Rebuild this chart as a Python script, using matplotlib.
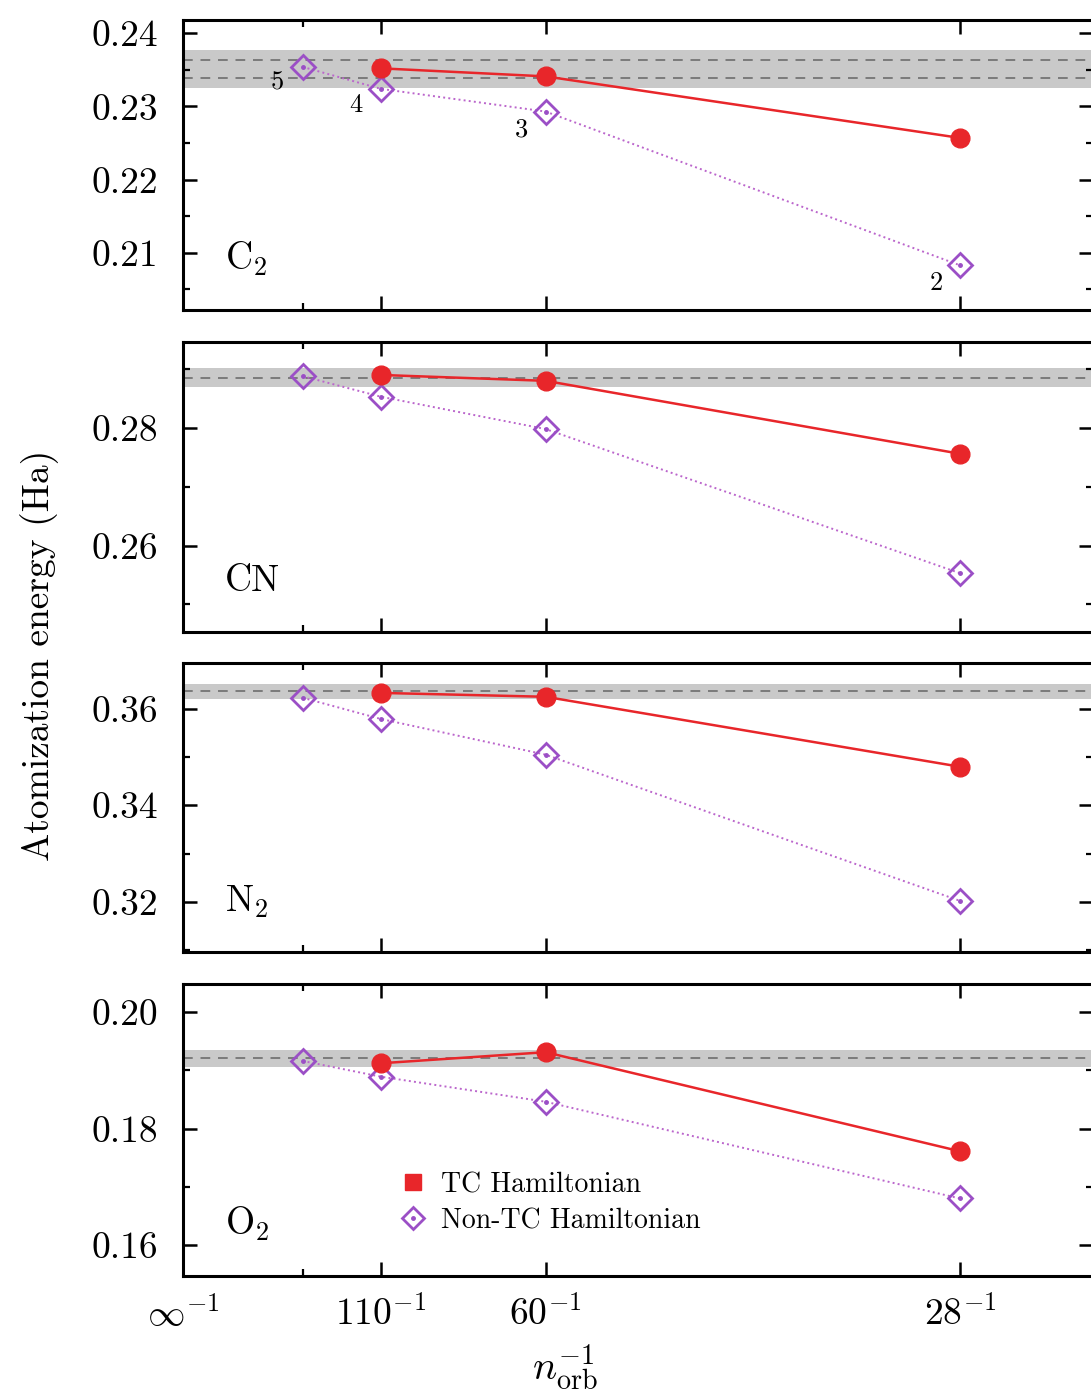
import numpy as np
import matplotlib
matplotlib.use("Agg")
import matplotlib.pyplot as plt
from matplotlib.ticker import FixedLocator, FixedFormatter, MultipleLocator, FormatStrFormatter
from matplotlib.lines import Line2D

plt.rcParams["font.family"] = ["cmr10", "DejaVu Serif"]
plt.rcParams["mathtext.fontset"] = "cm"
plt.rcParams["axes.formatter.use_mathtext"] = True

# Basis-set sizes (number of orbitals) and cardinal numbers
n_orb_nontc = [182, 110, 60, 28]
n_orb_tc = [110, 60, 28]
cardinal = ["5", "4", "3", "2"]

molecules = ["C$_2$", "CN", "N$_2$", "O$_2$"]

# Atomization energies (Ha)
tc_energy = {
    "C2": [0.2352, 0.2341, 0.2257],
    "CN": [0.2890, 0.2880, 0.2756],
    "N2": [0.3633, 0.3625, 0.3480],
    "O2": [0.1912, 0.1931, 0.1761],
}
nontc_energy = {
    "C2": [0.2354, 0.2324, 0.2293, 0.2083],
    "CN": [0.2888, 0.2853, 0.2798, 0.2553],
    "N2": [0.3623, 0.3579, 0.3505, 0.3202],
    "O2": [0.1916, 0.1889, 0.1846, 0.1680],
}
# Reference values (dashed) and uncertainty band limits
reference_lines = {
    "C2": [0.2363, 0.2339],
    "CN": [0.2885],
    "N2": [0.3636],
    "O2": [0.1921],
}
reference_band = {
    "C2": (0.2325, 0.2377),
    "CN": (0.2869, 0.2902),
    "N2": (0.3621, 0.3652),
    "O2": (0.1906, 0.1935),
}
ylims = {
    "C2": (0.2022, 0.2418),
    "CN": (0.2453, 0.2946),
    "N2": (0.3096, 0.3695),
    "O2": (0.1547, 0.2048),
}
y_major = {"C2": 0.01, "CN": 0.02, "N2": 0.02, "O2": 0.02}

x_tick_n = [np.inf, 110, 60, 28]
x_tick_labels = [r"$\infty^{-1}$", r"$110^{-1}$", r"$60^{-1}$", r"$28^{-1}$"]

RED = "#e8262a"
PURPLE = "#9b4fc6"
PURPLE_LINE = "#bb66cc"
BAND = "#c9c9c9"
DASH = "#7a7a7a"

W, H = 1091, 1400
fig = plt.figure(figsize=(W / 100, H / 100), dpi=100)

panels_px = [(20, 310), (342, 632), (663, 952), (984, 1276)]
left_px, right_px = 183, 1093
keys = ["C2", "CN", "N2", "O2"]
FS = 27

axes = []
for key, name, (top, bot) in zip(keys, molecules, panels_px):
    ax = fig.add_axes([left_px / W, 1 - bot / H, (right_px - left_px) / W, (bot - top) / H])
    axes.append(ax)

    xt = 1.0 / np.array(n_orb_tc, dtype=float)
    xn = 1.0 / np.array(n_orb_nontc, dtype=float)

    lo, hi = reference_band[key]
    ax.axhspan(lo, hi, color=BAND, zorder=0, lw=0)
    for r in reference_lines[key]:
        ax.axhline(r, color=DASH, ls=(0, (5, 4)), lw=1.4, zorder=1)

    ax.plot(xn, nontc_energy[key], ls=":", color=PURPLE_LINE, lw=1.4, zorder=2)
    ax.plot(xn, nontc_energy[key], ls="none", marker="D", ms=12, mfc="none",
            mec=PURPLE, mew=2.0, zorder=3)
    ax.plot(xn, nontc_energy[key], ls="none", marker="o", ms=2.5, color=PURPLE, zorder=3)
    ax.plot(xt, tc_energy[key], ls="-", color=RED, lw=1.8, marker="o", ms=13.5,
            mfc=RED, mec=RED, zorder=4)

    ax.set_xlim(0, (right_px - left_px) / 21756.0)
    ax.set_ylim(*ylims[key])
    ax.yaxis.set_major_locator(MultipleLocator(y_major[key]))
    ax.yaxis.set_minor_locator(MultipleLocator(y_major[key] / 2))
    ax.yaxis.set_major_formatter(FormatStrFormatter("%.2f"))

    xticks = [0.0 if np.isinf(n) else 1.0 / n for n in x_tick_n]
    ax.xaxis.set_major_locator(FixedLocator(xticks))
    ax.xaxis.set_minor_locator(FixedLocator([1.0 / n_orb_nontc[0]]))
    ax.xaxis.set_major_formatter(FixedFormatter(x_tick_labels))

    ax.tick_params(which="both", direction="in", top=True, right=True, labelsize=FS)
    ax.tick_params(which="major", length=10, width=1.8)
    ax.tick_params(which="minor", length=5, width=1.6)
    ax.tick_params(axis="x", pad=14)
    ax.tick_params(axis="y", pad=18)
    for s in ax.spines.values():
        s.set_linewidth(2.2)
    if key != "O2":
        ax.tick_params(axis="x", which="both", labelbottom=False)

    ax.text(0.046, 0.14, name, transform=ax.transAxes, fontsize=FS, va="baseline", ha="left")

# Cardinal-number annotations on the non-TC C2 points
ax0 = axes[0]
offsets = [(-18, -11), (-18, -12), (-17, -13), (-17, -13)]
for xv, yv, lab, (dx, dy) in zip(1.0 / np.array(n_orb_nontc, dtype=float),
                                 nontc_energy["C2"], cardinal, offsets):
    ax0.annotate(lab, (xv, yv), xytext=(dx, dy), textcoords="offset points",
                 fontsize=19, ha="center", va="center")

# Legend
h_tc = Line2D([], [], ls="none", marker="s", ms=11, color=RED)
h_dia = Line2D([], [], ls="none", marker="D", ms=11, mfc="none", mec=PURPLE, mew=2.0)
h_dot = Line2D([], [], ls="none", marker="o", ms=2.5, color=PURPLE)
axes[3].legend([h_tc, (h_dia, h_dot)], ["TC Hamiltonian", "Non-TC Hamiltonian"],
               loc="lower left", bbox_to_anchor=(0.21, 0.058), frameon=False,
               fontsize=20, handlelength=1.0, handletextpad=0.5, labelspacing=0.35)

fig.text(40 / W, 1 - 655 / H, "Atomization energy (Ha)", rotation=90,
         fontsize=FS, ha="center", va="center")
fig.text(565 / W, 1 - 1368 / H, r"$n_{\mathrm{orb}}^{-1}$", fontsize=FS + 2,
         ha="center", va="center")

fig.savefig("out.png", dpi=100)
